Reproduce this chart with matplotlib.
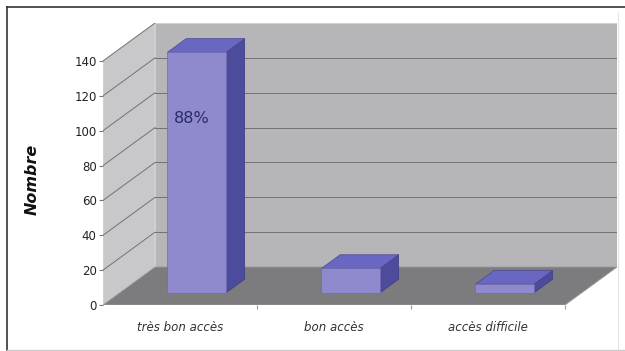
import matplotlib
matplotlib.use("Agg")
import matplotlib.pyplot as plt
from matplotlib.patches import Polygon
from matplotlib.lines import Line2D

# Data
categories = ["très bon accès", "bon accès", "accès difficile"]
counts = [138, 14, 5]
yticks = [0, 20, 40, 60, 80, 100, 120, 140]
ymax = 140

# Oblique 3D look: depth offsets expressed in data units
DX = 0.338          # depth shift along x (category units)
DY = 21.8           # depth shift along y (value units)
D0, D1 = 0.32, 0.68 # bar depth span (fraction of full depth)
HALF_W = 0.19       # half bar width (category units)

C_SIDE = "#c8c8ca"
C_BACK = "#b6b6b9"
C_FLOOR = "#7c7c7e"
C_GRID = "#727274"
C_FRONT = "#8f89cd"
C_TOP = "#6a67c2"
C_RSIDE = "#4d4b9b"

W, H = 625, 351
fig = plt.figure(figsize=(W / 100, H / 100), dpi=100)
fig.patch.set_facecolor("white")

# axes placement in pixels: x 0..3 spans 103..565, y 0..140 spans 305..61
px_per_x = (565 - 103) / 3
px_per_y = (305 - 61) / ymax
xmax = 3 + DX
ytop = ymax + DY
left = 103 / W
bottom = (H - 305) / H
width = xmax * px_per_x / W
height = ytop * px_per_y / H
ax = fig.add_axes([left, bottom, width, height])
ax.set_xlim(0, xmax)
ax.set_ylim(0, ytop)
for s in ax.spines.values():
    s.set_visible(False)
ax.patch.set_alpha(0)

n = len(categories)

# left side wall
ax.add_patch(Polygon([(0, 0), (0, ymax), (DX, ymax + DY), (DX, DY)],
                     closed=True, facecolor=C_SIDE, edgecolor="#dcdcdc", lw=0.6, zorder=1))
# back wall
ax.add_patch(Polygon([(DX, DY), (DX, ymax + DY), (n + DX, ymax + DY), (n + DX, DY)],
                     closed=True, facecolor=C_BACK, edgecolor="#d0d0d0", lw=0.6, zorder=1))
# floor
ax.add_patch(Polygon([(0, 0), (n, 0), (n + DX, DY), (DX, DY)],
                     closed=True, facecolor=C_FLOOR, edgecolor="#9a9a9a", lw=0.6, zorder=2))

# gridlines on side and back walls
for v in yticks[1:]:
    ax.plot([0, DX], [v, v + DY], color=C_GRID, lw=0.7, zorder=1.5)
    if v < ymax:
        ax.plot([DX, n + DX], [v + DY, v + DY], color=C_GRID, lw=0.7, zorder=1.5)

# bars
total = sum(counts)
for i, v in enumerate(counts):
    c = i + 0.5
    x0 = c - HALF_W + D0 * DX
    x1 = c + HALF_W + D0 * DX
    y0 = D0 * DY
    ddx = (D1 - D0) * DX
    ddy = (D1 - D0) * DY
    front = [(x0, y0), (x1, y0), (x1, y0 + v), (x0, y0 + v)]
    top = [(x0, y0 + v), (x1, y0 + v), (x1 + ddx, y0 + v + ddy), (x0 + ddx, y0 + v + ddy)]
    side = [(x1, y0), (x1 + ddx, y0 + ddy), (x1 + ddx, y0 + v + ddy), (x1, y0 + v)]
    ax.add_patch(Polygon(side, closed=True, facecolor=C_RSIDE, edgecolor="#3e3c80", lw=0.5, zorder=4))
    ax.add_patch(Polygon(top, closed=True, facecolor=C_TOP, edgecolor="#4a4890", lw=0.5, zorder=4))
    ax.add_patch(Polygon(front, closed=True, facecolor=C_FRONT, edgecolor="#6f6ab0", lw=0.5, zorder=5))
    if i == 0:
        pct = round(100 * v / total)
        ax.text((x0 + x1) / 2 - 0.03, y0 + 0.725 * v, f"{pct}%", ha="center", va="center",
                fontsize=11.5, color="#2b2b66", zorder=6)

# y axis ticks
ax.set_yticks(yticks)
ax.set_yticklabels([str(t) for t in yticks], fontsize=8.5, color="#222222")
ax.tick_params(axis="y", length=3, width=0.8, color="#777777", pad=1.5)

# x axis: category labels at centres, short tick marks at boundaries
ax.set_xticks([i + 0.5 for i in range(n)])
ax.set_xticklabels(categories, fontsize=8.5, style="italic", color="#333333")
ax.tick_params(axis="x", which="major", length=0, pad=11.5)
ax.set_xticks(list(range(1, n + 1)), minor=True)
ax.tick_params(axis="x", which="minor", length=3, width=0.8, color="#9a9a9a")

fig.text(32 / W, 1 - 179 / H, "Nombre", rotation=90, ha="center", va="center",
         fontsize=11.5, fontweight="bold", style="italic", color="#111111")

# outer frame
fig.add_artist(Line2D([7 / W, 7 / W], [1 - 7 / H, 1 - 350 / H], color="#333333", lw=1.2))
fig.add_artist(Line2D([7 / W, 1], [1 - 7 / H, 1 - 7 / H], color="#333333", lw=1.2))
fig.add_artist(Line2D([7 / W, 1], [1 - 349.5 / H, 1 - 349.5 / H], color="#cccccc", lw=1.0))
fig.add_artist(Line2D([618 / W, 618 / W], [1 - 13 / H, 1 - 349 / H], color="#e4e4e4", lw=0.8))

fig.savefig("out.png", dpi=100)
